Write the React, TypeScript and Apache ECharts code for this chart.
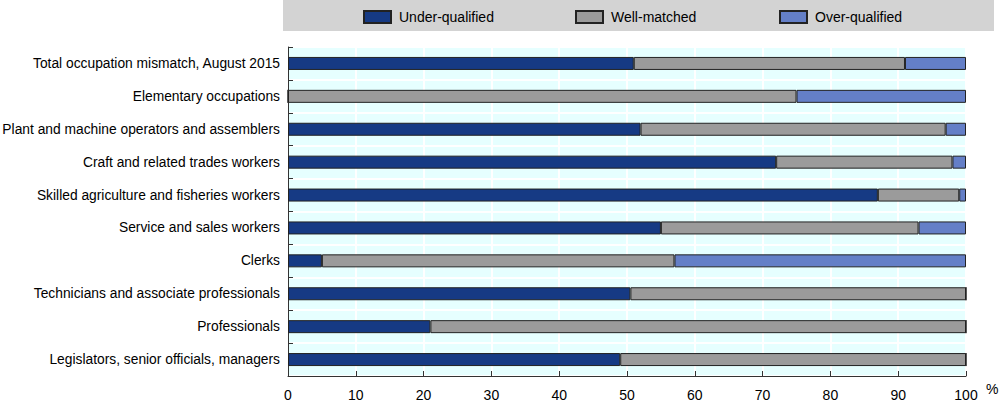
import React, { useEffect, useRef } from "react";
import * as echarts from "echarts";

const categories = [
  "Total occupation mismatch, August 2015",
  "Elementary occupations",
  "Plant and machine operators and assemblers",
  "Craft and related trades workers",
  "Skilled agriculture and fisheries workers",
  "Service and sales workers",
  "Clerks",
  "Technicians and associate professionals",
  "Professionals",
  "Legislators, senior officials, managers",
];
const underQualified = [51, 0, 52, 72, 87, 55, 5, 50.5, 21, 49];
const wellMatched = [40, 75, 45, 26, 12, 38, 52, 49.5, 79, 51];
const overQualified = [9, 25, 3, 2, 1, 7, 43, 0, 0, 0];
const seriesNames = ["Under-qualified", "Well-matched", "Over-qualified"];
const colors = ["#163a84", "#9b9b9b", "#647fc7"];
const xTicks = [0, 10, 20, 30, 40, 50, 60, 70, 80, 90, 100];

const FONT = "'Liberation Sans', Arial, sans-serif";

export default function App() {
  const ref = useRef<HTMLDivElement>(null);
  useEffect(() => {
    document.body.style.margin = "0";
    const chart = echarts.init(ref.current!, null, { renderer: "svg" });
    const values = [underQualified, wellMatched, overQualified];
    const legendLefts = [358, 570, 774];
    chart.setOption({
      animation: false,
      textStyle: { fontFamily: FONT },
      graphic: [
        {
          type: "rect",
          shape: { x: 283, y: 0, width: 711, height: 31 },
          style: { fill: "#d3d3d3" },
          z: -10,
        },
        {
          type: "text",
          left: 986,
          top: 382,
          style: { text: "%", fontSize: 14, fontFamily: FONT, fill: "#000" },
        },
      ],
      legend: seriesNames.map((n, i) => ({
        data: [n],
        left: legendLefts[i],
        top: 5,
        itemWidth: 27,
        itemHeight: 12,
        icon: "rect",
        textStyle: {
          fontSize: 14,
          fontFamily: FONT,
          color: "#000",
          padding: [0, 0, 0, 3],
        },
      })),
      grid: {
        left: 288,
        right: 34,
        top: 47,
        bottom: 26,
        containLabel: false,
        outerBoundsMode: "none",
        show: true,
        backgroundColor: "#e6ffff",
        borderColor: "#333",
        borderWidth: 1,
      },
      xAxis: {
        type: "value",
        min: 0,
        max: 100,
        interval: 10,
        axisLine: { show: true, lineStyle: { color: "#333" } },
        axisTick: {
          show: true,
          inside: true,
          length: 5,
          lineStyle: { color: "#333" },
        },
        splitLine: { show: true, lineStyle: { color: "#ffffff", width: 2 } },
        axisLabel: {
          fontSize: 14,
          color: "#000",
          margin: 12,
          fontFamily: FONT,
          formatter: (v: number) => (xTicks.includes(v) ? String(v) : ""),
        },
      },
      yAxis: {
        type: "category",
        data: categories,
        inverse: true,
        axisLine: { show: true, lineStyle: { color: "#333" } },
        axisTick: {
          show: true,
          inside: true,
          length: 5,
          lineStyle: { color: "#333" },
        },
        splitLine: { show: true, lineStyle: { color: "#ffffff", width: 2 } },
        axisLabel: { fontSize: 13.8, color: "#000", margin: 8, fontFamily: FONT },
      },
      series: seriesNames.map((n, i) => ({
        name: n,
        type: "bar",
        stack: "total",
        data: values[i],
        barWidth: 13,
        itemStyle: { color: colors[i], borderColor: "#222", borderWidth: 1 },
      })),
    });
    return () => chart.dispose();
  }, []);
  return <div ref={ref} style={{ width: 1000, height: 402 }} />;
}
